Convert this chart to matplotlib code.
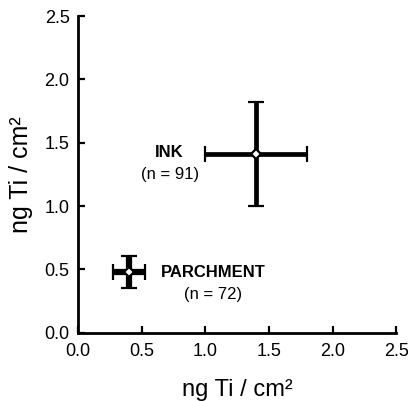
import matplotlib.pyplot as plt

plt.rcParams['font.family'] = ['Liberation Sans', 'DejaVu Sans']

# sample groups: mean Ti on x and y, with spread
groups = ['INK', 'PARCHMENT']
counts = [91, 72]
x_mean = [1.40, 0.40]
y_mean = [1.41, 0.48]
x_err = [0.40, 0.125]
y_err = [0.41, 0.13]
ticks = [0.0, 0.5, 1.0, 1.5, 2.0, 2.5]
tick_labels = ['0.0', '0.5', '1.0', '1.5', '2.0', '2.5']

fig = plt.figure(figsize=(4.08, 4.01), dpi=100)
ax = fig.add_axes([0.191, 0.170, 0.780, 0.790])

bar_w = [3.4, 4.5]
for i in range(len(groups)):
    ax.errorbar(x_mean[i], y_mean[i], xerr=x_err[i], yerr=y_err[i],
                fmt='D', ms=5.5, mfc='white', mec='black', mew=1.6,
                ecolor='black', elinewidth=bar_w[i], capsize=6, capthick=1.6,
                zorder=3)

# labels beside each point
ax.text(0.72, 1.42, groups[0], ha='center', va='center', fontsize=12, fontweight='bold')
ax.text(0.72, 1.25, '(n = %d)' % counts[0], ha='center', va='center', fontsize=12)
ax.text(1.06, 0.48, groups[1], ha='center', va='center', fontsize=12, fontweight='bold')
ax.text(1.06, 0.30, '(n = %d)' % counts[1], ha='center', va='center', fontsize=12)

ax.set_xlim(0, 2.5)
ax.set_ylim(0, 2.5)
ax.set_xticks(ticks, tick_labels)
ax.set_yticks(ticks, tick_labels)
ax.tick_params(direction='in', length=5, width=1.6, labelsize=13)
ax.tick_params(axis='x', pad=7)
ax.tick_params(axis='y', pad=6)
for s in ['top', 'right']:
    ax.spines[s].set_visible(False)
for s in ['left', 'bottom']:
    ax.spines[s].set_linewidth(2)

ax.set_xlabel('ng Ti / cm²', fontsize=17, labelpad=14)
ax.set_ylabel('ng Ti / cm²', fontsize=18, labelpad=8)

fig.savefig('out.png', dpi=100)
